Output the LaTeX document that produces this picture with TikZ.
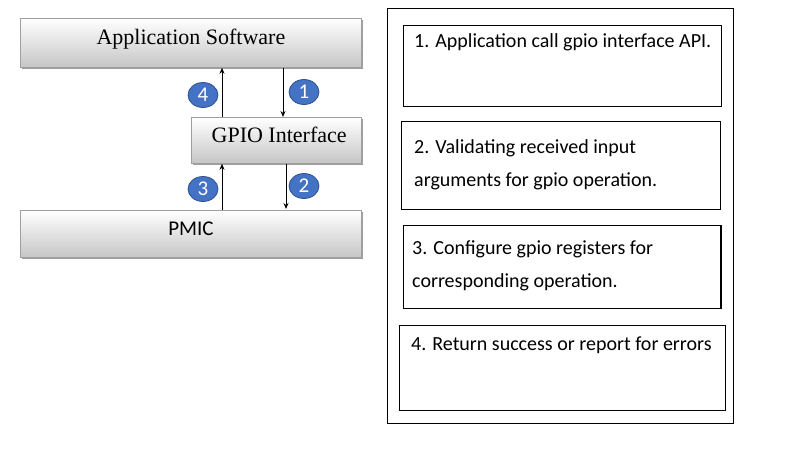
\documentclass[tikz,border=0pt]{standalone}
\usepackage{fontspec}
\setmainfont{Carlito}
\newfontfamily\serifface{Liberation Serif}
\usetikzlibrary{positioning, calc, shapes.geometric, arrows.meta, shadows}

\definecolor{badgeblue}{HTML}{4472C4}
\definecolor{badgeedge}{HTML}{2F528F}

\begin{document}
\begin{tikzpicture}[
         x=1pt, y=-1pt,
         layer/.style={draw=gray!75, line width=0.8pt, top color=white, bottom color=gray!45,
            drop shadow={shadow xshift=1.5pt, shadow yshift=-1.5pt, fill=gray!75, opacity=1},
            anchor=north west, inner sep=0pt, text height=14pt, text depth=10pt},
         badge/.style={ellipse, draw=badgeedge, line width=0.8pt, fill=badgeblue, text=white,
            minimum width=30pt, minimum height=25pt, inner sep=0pt, font=\fontsize{21}{21}\selectfont},
         flow/.style={-{Stealth[length=6pt, width=5pt]}, line width=0.8pt},
         stepbox/.style={draw, line width=1pt, anchor=north west, inner sep=0pt},
         note/.style={anchor=base west, align=left, inner sep=0pt, font=\fontsize{20}{33}\selectfont}
      ]
         \useasboundingbox (0,0) rectangle (788,456);

         % Layers
         \node[layer, minimum width=341pt, minimum height=49pt, font=\fontsize{22}{22}\selectfont] (app) at (20,18) {\serifface Application Software};
         \node[layer, minimum width=170pt, minimum height=46pt, font=\fontsize{22}{22}\selectfont] (gpio) at (191,117) {\serifface\ GPIO Interface};
         \node[layer, minimum width=341pt, minimum height=47pt, font=\fontsize{21}{21}\selectfont] (pmic) at (20,210) {PMIC};

         % Arrows between layers
         \coordinate (up) at (222,0);
         \coordinate (down1) at (283,0);
         \coordinate (down2) at (286,0);
         \draw[flow] (down1 |- app.south) -- (down1 |- gpio.north);
         \draw[flow] (down2 |- gpio.south) -- ($(down2 |- pmic.north)+(0,-1)$);
         \draw[flow] (up |- pmic.north) -- (up |- gpio.south);
         \draw[flow] (up |- gpio.north) -- (up |- app.south);

         % Step numbers
         \node[badge] (b1) at (304,92) {1};
         \node[badge] (b2) at (304,186) {2};
         \node[badge] (b3) at (203,189) {3};
         \node[badge] (b4) at (203,95) {4};

         % Step descriptions
         \node[draw, line width=1pt, anchor=north west, inner sep=0pt, minimum width=346pt, minimum height=415pt] (panel) at (387,8) {};
         \node[stepbox, minimum width=318pt, minimum height=81pt] (s1) at (403,25) {};
         \node[stepbox, minimum width=319pt, minimum height=88pt] (s2) at (401,121) {};
         \node[stepbox, minimum width=317pt, minimum height=83pt] (s3) at (403,225) {};
         \node[stepbox, minimum width=326pt, minimum height=85pt] (s4) at (399,325) {};
         \draw[line width=2pt] (s3.north east) -- (s3.south east);

         \node[note] (t1) at (414,47) {1. Application call gpio interface API.};
         \node[note] (t2) at (414,186) {2. Validating received input\\arguments for gpio operation.};
         \node[note] (t3) at (412,287) {3. Configure gpio registers for\\corresponding operation.};
         \node[note] (t4) at (411,350) {4. Return success or report for errors};

      \end{tikzpicture}
\end{document}
